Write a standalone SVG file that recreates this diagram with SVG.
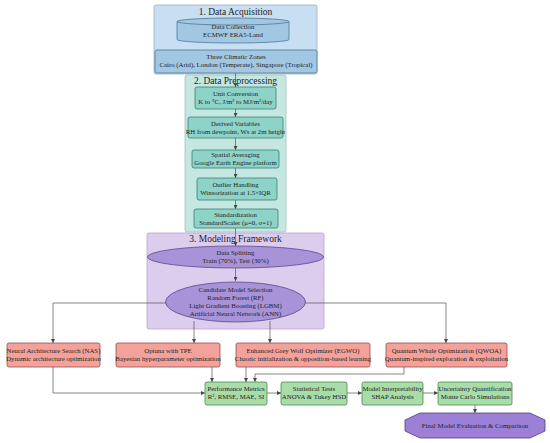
<svg xmlns="http://www.w3.org/2000/svg" width="550" height="443" viewBox="0 0 550 443">
<style>
text{font-family:"Liberation Serif","Times New Roman",serif;fill:#222;text-anchor:middle}
.t{font-size:6.8px}
.h{font-size:9.5px}
.c1{fill:#c8def2;stroke:#9ab0c4;stroke-width:0.8}
.c2{fill:#c4e8e1;stroke:#9cc4bd;stroke-width:0.8}
.c3{fill:#dccdee;stroke:#b4a4cc;stroke-width:0.8}
.blue{fill:#a2c7e2;stroke:#4d7896;stroke-width:0.8}
.teal{fill:#8ed3c8;stroke:#3c7d73;stroke-width:0.8}
.pur{fill:#a893d8;stroke:#5c4a8c;stroke-width:0.8}
.red{fill:#f3a29b;stroke:#9a4d4a;stroke-width:0.8}
.grn{fill:#a8dca9;stroke:#4a8a4c;stroke-width:0.8}
.oct{fill:#9c80d6;stroke:#4e3c80;stroke-width:0.8}
.e{fill:none;stroke:#555;stroke-width:0.7;marker-end:url(#ah)}
</style>
<defs>
<marker id="ah" viewBox="0 0 6 6" refX="6" refY="3" markerWidth="4" markerHeight="4" orient="auto" markerUnits="userSpaceOnUse">
<path d="M0,0 L6,3 L0,6 z" fill="#444"/>
</marker>
</defs>
<rect width="550" height="443" fill="#fff"/>
<g id="cluster1">
<rect class="c1" x="154" y="5" width="163" height="69" rx="2"/>
<text class="h" x="235.5" y="15">1. Data Acquisition</text>
</g>
<g id="cluster2">
<rect class="c2" x="185" y="75" width="101" height="157" rx="2"/>
<text class="h" x="235.5" y="84">2. Data Preprocessing</text>
</g>
<g id="cluster3">
<rect class="c3" x="147" y="233" width="177" height="96" rx="2"/>
<text class="h" x="235.5" y="242">3. Modeling Framework</text>
</g>
<g id="connectors">
<path class="e" d="M235.5,73 V87"/>
<path class="e" d="M235.5,109 V117"/>
<path class="e" d="M235.5,138 V150"/>
<path class="e" d="M235.5,168 V178"/>
<path class="e" d="M235.5,200 V209"/>
<path class="e" d="M235.5,228 V246"/>
<path class="e" d="M235.5,268 V281"/>
<path class="e" d="M166,303 H53 V343"/>
<path class="e" d="M194,321 V343"/>
<path class="e" d="M270,321 V343"/>
<path class="e" d="M305,303 H446 V343"/>
<path class="e" d="M53,367 V393 H205"/>
<path class="e" d="M212,367 V382"/>
<path class="e" d="M246,367 V382"/>
<path class="e" d="M404,367 V374 H255 V382"/>
<path class="e" d="M267,393 H281"/>
<path class="e" d="M347,393 H362"/>
<path class="e" d="M423,393 H438"/>
<path class="e" d="M475,405 V413"/>
</g>
<g id="data_collection">
<path class="blue" d="M177,21.5 A56,3.5 0 0 1 289,21.5 V39.5 A56,3.5 0 0 1 177,39.5 Z"/>
<path d="M177,21.5 A56,3.5 0 0 0 289,21.5" fill="none" stroke="#4d7896" stroke-width="0.8"/>
<text class="t" x="233" y="29">Data Collection</text>
<text class="t" x="233" y="37">ECMWF ERA5-Land</text>
</g>
<g id="climatic_zones">
<rect class="blue" x="155" y="50" width="162" height="23" rx="2"/>
<text class="t" x="236" y="59">Three Climatic Zones</text>
<text class="t" x="236" y="67">Cairo (Arid), London (Temperate), Singapore (Tropical)</text>
</g>
<g id="unit_conversion">
<rect class="teal" x="195" y="87" width="81" height="22" rx="2"/>
<text class="t" x="235.5" y="96">Unit Conversion</text>
<text class="t" x="235.5" y="104">K to °C, J/m² to MJ/m²/day</text>
</g>
<g id="derived_variables">
<rect class="teal" x="188" y="117" width="95" height="21" rx="2"/>
<text class="t" x="235.5" y="126">Derived Variables</text>
<text class="t" x="235.5" y="134">RH from dewpoint, Ws at 2m height</text>
</g>
<g id="spatial_averaging">
<rect class="teal" x="192" y="150" width="87" height="18" rx="2"/>
<text class="t" x="235.5" y="157">Spatial Averaging</text>
<text class="t" x="235.5" y="165">Google Earth Engine platform</text>
</g>
<g id="outlier_handling">
<rect class="teal" x="197" y="178" width="80" height="22" rx="2"/>
<text class="t" x="235.5" y="187">Outlier Handling</text>
<text class="t" x="235.5" y="195">Winsorization at 1.5×IQR</text>
</g>
<g id="standardization">
<rect class="teal" x="194" y="209" width="84" height="19" rx="2"/>
<text class="t" x="235.5" y="217">Standardization</text>
<text class="t" x="235.5" y="225">StandardScaler (μ=0, σ=1)</text>
</g>
<g id="data_splitting">
<ellipse class="pur" cx="235.5" cy="257" rx="88" ry="11"/>
<text class="t" x="235.5" y="255">Data Splitting</text>
<text class="t" x="235.5" y="263">Train (70%), Test (30%)</text>
</g>
<g id="model_selection">
<ellipse class="pur" cx="235.5" cy="302" rx="70" ry="20"/>
<text class="t" x="235.5" y="292">Candidate Model Selection</text>
<text class="t" x="235.5" y="300">Random Forest (RF)</text>
<text class="t" x="235.5" y="308">Light Gradient Boosting (LGBM)</text>
<text class="t" x="235.5" y="316">Artificial Neural Network (ANN)</text>
</g>
<g id="nas">
<rect class="red" x="7" y="343" width="93" height="24" rx="2"/>
<text class="t" x="53.5" y="353">Neural Architecture Search (NAS)</text>
<text class="t" x="53.5" y="361">Dynamic architecture optimization</text>
</g>
<g id="optuna">
<rect class="red" x="116" y="343" width="104" height="24" rx="2"/>
<text class="t" x="168" y="353">Optuna with TPE</text>
<text class="t" x="168" y="361">Bayesian hyperparameter optimization</text>
</g>
<g id="egwo">
<rect class="red" x="236" y="343" width="134" height="24" rx="2"/>
<text class="t" x="303" y="353">Enhanced Grey Wolf Optimizer (EGWO)</text>
<text class="t" x="303" y="361">Chaotic initialization &amp; opposition-based learning</text>
</g>
<g id="qwoa">
<rect class="red" x="386" y="343" width="121" height="24" rx="2"/>
<text class="t" x="446.5" y="353">Quantum Whale Optimization (QWOA)</text>
<text class="t" x="446.5" y="361">Quantum-inspired exploration &amp; exploitation</text>
</g>
<g id="performance_metrics">
<rect class="grn" x="205" y="382" width="62" height="23" rx="2"/>
<text class="t" x="236" y="391">Performance Metrics</text>
<text class="t" x="236" y="399">R², RMSE, MAE, SI</text>
</g>
<g id="statistical_tests">
<rect class="grn" x="281" y="382" width="66" height="23" rx="2"/>
<text class="t" x="314" y="391">Statistical Tests</text>
<text class="t" x="314" y="399">ANOVA &amp; Tukey HSD</text>
</g>
<g id="interpretability">
<rect class="grn" x="362" y="382" width="61" height="23" rx="2"/>
<text class="t" x="392.5" y="391">Model Interpretability</text>
<text class="t" x="392.5" y="399">SHAP Analysis</text>
</g>
<g id="uncertainty">
<rect class="grn" x="438" y="382" width="74" height="23" rx="2"/>
<text class="t" x="475" y="391">Uncertainty Quantification</text>
<text class="t" x="475" y="399">Monte Carlo Simulations</text>
</g>
<g id="final">
<polygon class="oct" points="420,413 530,413 545,420 545,431 530,438 420,438 405,431 405,420"/>
<text class="t" x="475" y="428">Final Model Evaluation &amp; Comparison</text>
</g>
</svg>
